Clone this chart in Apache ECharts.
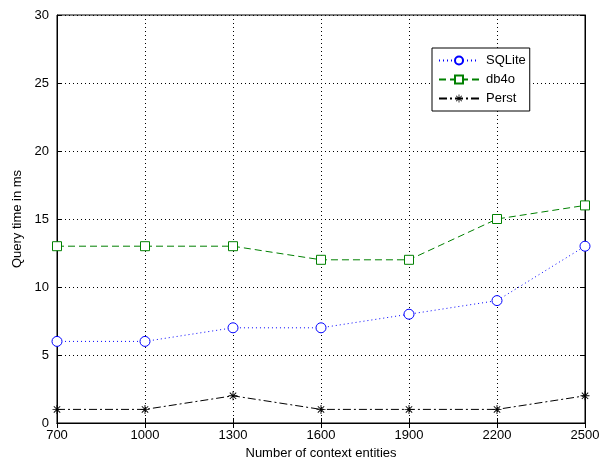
<!DOCTYPE html>
<html><head><meta charset="utf-8">
<script src="https://cdn.jsdelivr.net/npm/echarts@6/dist/echarts.min.js"></script>
<style>html,body{margin:0;background:#fff}#c{width:605px;height:467px}</style>
</head><body><div id="c"></div>
<script>
const xVals=[700,1000,1300,1600,1900,2200,2500];
const sqlite=[6,6,7,7,8,9,13];
const db4o=[13,13,13,12,12,15,16];
const perst=[1,1,2,1,1,1,2];
const star='path://M9,0h2v20h-2zM0,9h20v2h-20zM2.2,3.6l1.4,-1.4l14.2,14.2l-1.4,1.4zM16.4,2.2l1.4,1.4l-14.2,14.2l-1.4,-1.4z';
const pairs=a=>a.map((v,i)=>[xVals[i],v]);
const font='Liberation Sans, Arial, sans-serif';
const tick={inside:true,length:5,lineStyle:{color:'#000'}};
const chart=echarts.init(document.getElementById('c'));
chart.setOption({
 animation:false,
 grid:{left:57,right:20,top:15,bottom:44,show:true,borderColor:'#000',borderWidth:1},
 xAxis:[{type:'value',min:700,max:2500,interval:300,name:'Number of context entities',nameLocation:'middle',nameGap:22,
  nameTextStyle:{fontFamily:font,fontSize:13,color:'#000'},
  axisLine:{lineStyle:{color:'#000'}},axisTick:tick,
  axisLabel:{fontFamily:font,fontSize:13,color:'#000',margin:6,formatter:v=>String(v)},
  splitLine:{lineStyle:{type:[1,3],color:'#000'}}},
  {type:'value',position:'top',min:700,max:2500,interval:300,axisLine:{lineStyle:{color:'#000'}},axisTick:tick,axisLabel:{show:false},splitLine:{show:false}}],
 yAxis:[{type:'value',min:0,max:30,interval:5,name:'Query time in ms',nameLocation:'middle',nameGap:30,
  nameTextStyle:{fontFamily:font,fontSize:13,color:'#000'},
  axisLine:{show:true,lineStyle:{color:'#000'}},axisTick:Object.assign({show:true},tick),
  axisLabel:{fontFamily:font,fontSize:13,color:'#000',margin:8},
  splitLine:{lineStyle:{type:[1,3],color:'#000'}}},
  {type:'value',position:'right',min:0,max:30,interval:5,axisLine:{show:true,lineStyle:{color:'#000'}},axisTick:Object.assign({show:true},tick),axisLabel:{show:false},splitLine:{show:false}}],
 legend:{orient:'vertical',left:432,top:48,backgroundColor:'#fff',borderColor:'#000',borderWidth:1,padding:[6,4,6,6],
  itemGap:6,itemWidth:40,itemHeight:10,textStyle:{fontFamily:font,fontSize:13,color:'#000',padding:[0,0,0,2]},align:'left',
  data:['SQLite','db4o','Perst']},
 series:[
  {name:'SQLite',type:'line',data:pairs(sqlite),symbol:'circle',symbolSize:10,showAllSymbol:true,
   lineStyle:{color:'#0000ff',width:1,type:[1,3]},itemStyle:{color:'#fff',borderColor:'#0000ff',borderWidth:1}},
  {name:'db4o',type:'line',data:pairs(db4o),symbol:'rect',symbolSize:9,
   lineStyle:{color:'#008000',width:1,type:[7,4]},itemStyle:{color:'#fff',borderColor:'#008000',borderWidth:1}},
  {name:'Perst',type:'line',data:pairs(perst),symbol:star,symbolSize:9,
   lineStyle:{color:'#000',width:1,type:[8,3,2,3]},itemStyle:{color:'#000'}}
 ]
});
</script></body></html>
